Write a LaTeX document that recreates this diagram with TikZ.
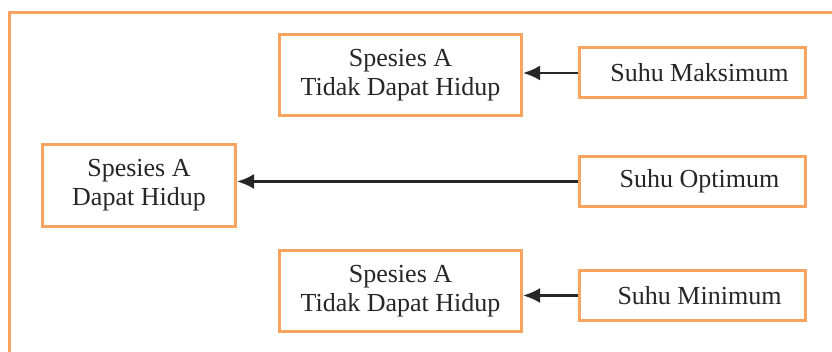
\documentclass[tikz,border=0pt]{standalone}
\usepackage{fontspec}
\setmainfont{Liberation Serif}
\usepackage{tikz}
\usetikzlibrary{positioning,arrows.meta}
\definecolor{jingga}{RGB}{248,163,96}

\begin{document}
\begin{tikzpicture}[x=1pt,y=1pt,
  kotak/.style={draw=jingga, line width=3pt, align=center, inner sep=0pt,
    font=\fontsize{26}{29}\selectfont, text=black!85},
  spesies/.style={kotak, minimum width=242pt, minimum height=81pt},
  suhu/.style={kotak, minimum width=226pt, minimum height=50pt},
  panah/.style={line width=2.5pt, black!85, -{Latex[length=17pt,width=15pt]}}]
\useasboundingbox (0,0) rectangle (832,352);
\clip (0,0) rectangle (832,352);
% bingkai luar
\draw [jingga, line width = 3pt] (9.7,-20) |- (850,339.5);
% kotak spesies
\node[spesies] (atas) at (400.5,277) {Spesies A\\Tidak Dapat Hidup};
\node[spesies, minimum width=193pt, minimum height=82pt] (hidup) at (139,166.5) {Spesies A\\Dapat Hidup};
\node[spesies] (bawah) at (400.5,60.5) {Spesies A\\Tidak Dapat Hidup};
% kotak suhu
\node[suhu] (maks) at (692.5,279) {\hspace*{14pt}Suhu Maksimum};
\node[suhu] (opt) at (692.5,170.5) {\hspace*{14pt}Suhu Optimum};
\node[suhu] (min) at (692.5,56.5) {\hspace*{14pt}Suhu Minimum};
% panah
\draw [panah] (maks.west) -- (maks.west -| atas.east);
\draw [panah] (opt.west) -- (opt.west -| hidup.east);
\draw [panah] (min.west) -- (min.west -| bawah.east);
\end{tikzpicture}
\end{document}
